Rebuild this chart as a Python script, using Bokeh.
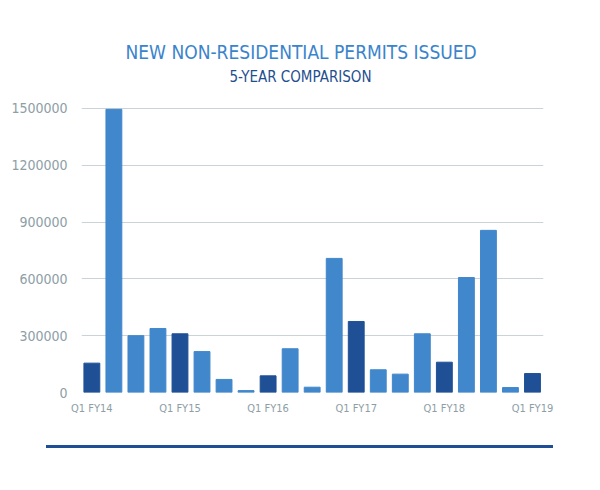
from bokeh.plotting import figure
from bokeh.models import Title, FixedTicker, Div, ColumnDataSource, BasicTickFormatter
from bokeh.layouts import column
from bokeh.embed import file_html
from bokeh.resources import INLINE

quarters = ["Q1 FY14", "Q2 FY14", "Q3 FY14", "Q4 FY14",
            "Q1 FY15", "Q2 FY15", "Q3 FY15", "Q4 FY15",
            "Q1 FY16", "Q2 FY16", "Q3 FY16", "Q4 FY16",
            "Q1 FY17", "Q2 FY17", "Q3 FY17", "Q4 FY17",
            "Q1 FY18", "Q2 FY18", "Q3 FY18", "Q4 FY18",
            "Q1 FY19"]
permits = [155000, 1495000, 300000, 338000,
           310000, 216000, 69000, 10000,
           88000, 231000, 28000, 708000,
           375000, 120000, 97000, 310000,
           160000, 607000, 856000, 26000,
           100000]
y_ticks = [0, 300000, 600000, 900000, 1200000, 1500000]

title_text = "NEW NON-RESIDENTIAL PERMITS ISSUED"
subtitle_text = "5-YEAR COMPARISON"

FONT = "Liberation Sans Narrow, DejaVu Sans Condensed, Roboto, sans-serif"
DARK = "#1f5096"
LIGHT = "#4087cc"

xs = list(range(len(quarters)))
colors = [DARK if q.startswith("Q1") else LIGHT for q in quarters]
src = ColumnDataSource(dict(x=xs, y=permits, c=colors, q=quarters))

p = figure(width=584, height=436, output_backend="svg", toolbar_location=None,
           x_range=(-0.47, 20.5), y_range=(0, 1510000),
           min_border_left=71, min_border_right=49, min_border_top=98,
           min_border_bottom=52, margin=(8, 0, 0, 8))
p.title.visible = False
p.outline_line_color = None

p.vbar(x="x", top="y", width=0.72, bottom=0, fill_color="c", line_color="c", source=src)

p.xgrid.visible = False
p.ygrid.ticker = FixedTicker(ticks=y_ticks)
p.ygrid.grid_line_color = "#c9d3d8"
p.ygrid.grid_line_width = 1

p.yaxis.ticker = FixedTicker(ticks=y_ticks)
p.yaxis.formatter = BasicTickFormatter(use_scientific=False)
p.yaxis.axis_line_color = None
p.yaxis.major_tick_line_color = None
p.yaxis.minor_tick_line_color = None
p.yaxis.major_label_text_font = FONT
p.yaxis.major_label_text_font_size = "14px"
p.yaxis.major_label_text_color = "#8d9ea6"
p.yaxis.major_label_standoff = 8

q1_ticks = [i for i, q in enumerate(quarters) if q.startswith("Q1")]
p.xaxis.ticker = FixedTicker(ticks=q1_ticks)
p.xaxis.major_label_overrides = {i: quarters[i] for i in q1_ticks}
p.xaxis.axis_line_color = None
p.xaxis.major_tick_line_color = None
p.xaxis.minor_tick_line_color = None
p.xaxis.major_label_text_font = FONT
p.xaxis.major_label_text_font_size = "11px"
p.xaxis.major_label_text_color = "#8d9ea6"
p.xaxis.major_label_standoff = 3

p.add_layout(Title(text=subtitle_text, align="left", offset=148, text_font=FONT,
                   text_font_size="15px", text_font_style="normal",
                   text_color="#1f4e8f", standoff=42), "above")
p.add_layout(Title(text=title_text, align="left", offset=44, text_font=FONT,
                   text_font_size="19px", text_font_style="normal",
                   text_color="#3a84cc", standoff=-36), "above")

rule = Div(text="", width=507, height=3, margin=(1, 0, 0, 46),
           styles={"border-top": "3px solid #1f4e96"})

layout = column(p, rule)
open("out.html", "w").write(file_html(layout, INLINE))
